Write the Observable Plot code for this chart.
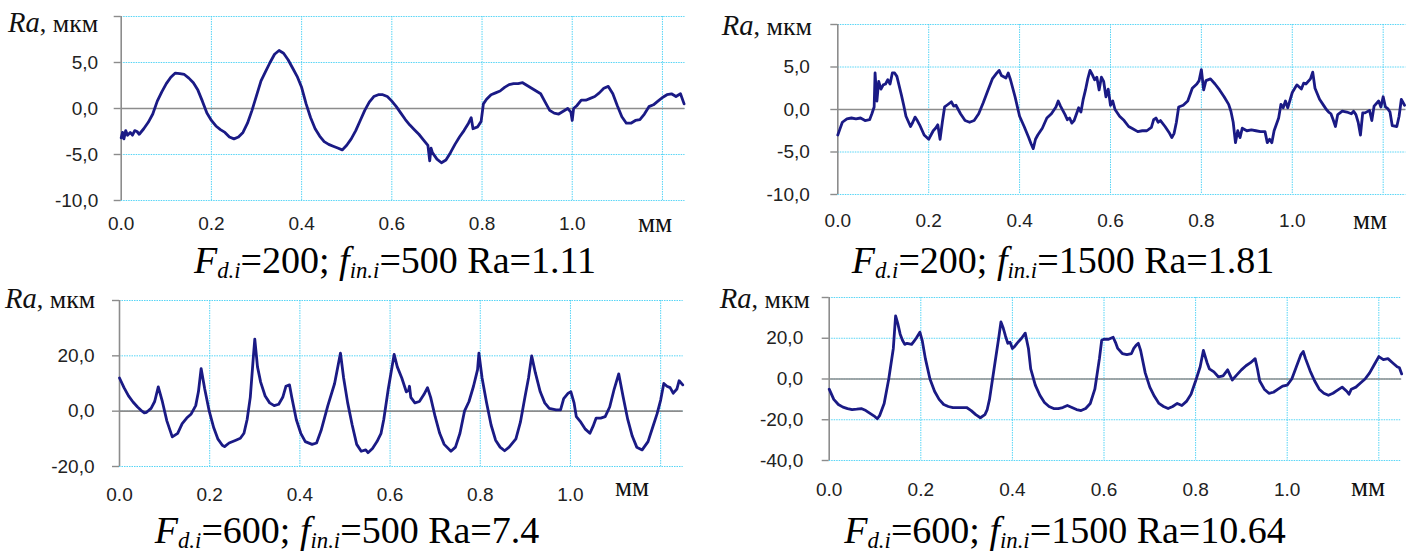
<!DOCTYPE html>
<html><head><meta charset="utf-8">
<script src="https://cdn.jsdelivr.net/npm/d3@7"></script>
<script src="https://cdn.jsdelivr.net/npm/@observablehq/plot@0.6"></script>
<style>
body{margin:0;background:#fff;}
#wrap{position:relative;width:1416px;height:555px;overflow:hidden;background:#fff;}
.panel{position:absolute;}
.lbl{position:absolute;font-family:'Liberation Serif','Tinos',serif;color:#111;white-space:nowrap;line-height:1;}
.lbl i{font-size:1.1em;}
.cap{position:absolute;width:700px;text-align:center;font-family:'Liberation Serif','Tinos',serif;font-size:38px;line-height:1;color:#000;white-space:nowrap;}
.cap sub{font-size:0.6em;vertical-align:-0.2em;line-height:0;font-style:italic;}
</style></head><body><div id="wrap"></div>
<script>
// ---------- data (x in мм, Ra in мкм) ----------
const xTicks = [0, 0.2, 0.4, 0.6, 0.8, 1.0];
const xGrid = [0.2, 0.4, 0.6, 0.8, 1.0, 1.2];
const yTicks1 = [-10, -5, 0, 5, 10];
const yTicks2 = [-10, -5, 0, 5, 10];
const yTicks3 = [-20, 0, 20, 40];
const yTicks4 = [-40, -20, 0, 20, 40];
const captions = [
  ["200", "500", "1.11"],
  ["200", "1500", "1.81"],
  ["600", "500", "7.4"],
  ["600", "1500", "10.64"]
];

const profile1 = [[0,-3.2],[0.003,-2.6],[0.006,-3.3],[0.01,-2.4],[0.014,-2.9],[0.02,-2.6],[0.025,-2.9],[0.03,-2.4],[0.035,-2.5],[0.04,-2.8],[0.05,-2.2],[0.06,-1.5],[0.07,-0.6],[0.08,0.8],[0.09,1.8],[0.1,2.7],[0.11,3.4],[0.12,3.85],[0.13,3.8],[0.14,3.7],[0.15,3.3],[0.16,2.8],[0.17,2.0],[0.18,0.8],[0.19,-0.5],[0.2,-1.3],[0.21,-1.9],[0.22,-2.3],[0.23,-2.6],[0.24,-3.1],[0.25,-3.3],[0.26,-3.1],[0.27,-2.6],[0.28,-1.6],[0.29,-0.2],[0.3,1.4],[0.31,3.0],[0.32,4.0],[0.33,5.0],[0.34,5.9],[0.35,6.3],[0.36,6.0],[0.37,5.3],[0.38,4.4],[0.39,3.5],[0.4,2.3],[0.41,0.5],[0.42,-1.0],[0.43,-2.2],[0.44,-3.0],[0.45,-3.6],[0.46,-3.9],[0.47,-4.1],[0.48,-4.3],[0.49,-4.5],[0.5,-4.0],[0.51,-3.3],[0.52,-2.4],[0.53,-1.3],[0.54,-0.2],[0.55,0.7],[0.56,1.3],[0.57,1.5],[0.58,1.5],[0.59,1.3],[0.6,0.8],[0.61,0.2],[0.62,-0.5],[0.63,-1.2],[0.64,-1.8],[0.65,-2.3],[0.66,-2.8],[0.67,-3.4],[0.68,-4.0],[0.684,-5.7],[0.687,-4.3],[0.69,-4.8],[0.7,-5.5],[0.71,-5.9],[0.72,-5.6],[0.73,-4.8],[0.74,-3.9],[0.75,-3.1],[0.76,-2.4],[0.77,-1.6],[0.776,-1.0],[0.78,-2.2],[0.79,-2.0],[0.798,-1.4],[0.803,0.5],[0.81,1.0],[0.82,1.5],[0.83,1.7],[0.84,1.9],[0.85,2.3],[0.86,2.6],[0.87,2.7],[0.88,2.7],[0.89,2.8],[0.9,2.5],[0.91,2.2],[0.92,1.9],[0.93,1.6],[0.94,0.7],[0.95,-0.2],[0.96,-0.5],[0.97,-0.6],[0.98,-0.3],[0.99,0.0],[0.997,-0.4],[1.0,-1.3],[1.003,0.0],[1.01,0.3],[1.02,0.9],[1.03,0.9],[1.04,1.1],[1.05,1.3],[1.06,1.7],[1.07,2.2],[1.08,2.4],[1.09,1.6],[1.1,0.3],[1.11,-0.9],[1.12,-1.6],[1.13,-1.6],[1.14,-1.3],[1.15,-1.2],[1.16,-0.6],[1.17,0.2],[1.18,0.4],[1.19,0.8],[1.2,1.2],[1.21,1.5],[1.22,1.6],[1.23,1.3],[1.24,1.6],[1.248,0.5]];

const profile2 = [[0,-3.0],[0.004,-2.4],[0.01,-1.5],[0.02,-1.1],[0.03,-1.0],[0.04,-1.1],[0.05,-1.0],[0.06,-1.3],[0.07,-1.2],[0.075,-0.5],[0.08,0.3],[0.082,4.3],[0.086,1.0],[0.09,3.3],[0.095,2.4],[0.1,2.9],[0.105,3.0],[0.11,3.5],[0.115,3.0],[0.12,4.3],[0.125,4.3],[0.13,3.9],[0.14,1.7],[0.145,0.5],[0.15,-0.8],[0.16,-2.0],[0.165,-1.5],[0.17,-0.9],[0.175,-1.3],[0.18,-1.8],[0.19,-3.0],[0.2,-3.5],[0.21,-2.5],[0.215,-2.2],[0.22,-1.8],[0.225,-3.5],[0.23,-1.5],[0.235,0.3],[0.24,0.5],[0.25,0.9],[0.255,0.4],[0.26,0.5],[0.27,-0.5],[0.28,-1.3],[0.29,-1.5],[0.3,-1.3],[0.31,-0.5],[0.32,0.8],[0.33,2.2],[0.34,3.6],[0.35,4.3],[0.355,4.6],[0.36,4.0],[0.37,3.7],[0.375,4.3],[0.38,3.5],[0.39,1.5],[0.4,-0.8],[0.41,-2.0],[0.42,-3.3],[0.425,-4.0],[0.43,-4.6],[0.435,-3.5],[0.44,-3.0],[0.45,-2.2],[0.46,-1.0],[0.47,-0.5],[0.48,0.3],[0.485,1.0],[0.49,0.4],[0.5,-0.6],[0.505,-1.2],[0.51,-1.0],[0.515,-1.6],[0.52,-1.3],[0.53,0.2],[0.535,-0.3],[0.54,1.2],[0.545,2.3],[0.55,3.6],[0.555,4.6],[0.56,4.1],[0.565,3.5],[0.57,3.8],[0.575,2.3],[0.58,3.8],[0.585,3.3],[0.59,1.5],[0.595,2.4],[0.6,0.5],[0.605,1.0],[0.61,0.0],[0.62,-0.8],[0.63,-1.3],[0.64,-2.0],[0.65,-2.3],[0.66,-2.6],[0.67,-2.5],[0.68,-2.5],[0.69,-2.1],[0.695,-1.2],[0.7,-1.0],[0.705,-1.5],[0.71,-1.3],[0.72,-2.0],[0.73,-2.8],[0.735,-3.3],[0.74,-2.8],[0.745,-1.5],[0.75,0.3],[0.76,0.5],[0.77,1.0],[0.78,2.5],[0.79,3.0],[0.795,3.4],[0.8,4.7],[0.805,2.3],[0.81,3.4],[0.82,3.6],[0.83,3.0],[0.84,2.3],[0.85,1.5],[0.86,0.6],[0.865,-0.2],[0.87,-1.5],[0.875,-3.9],[0.88,-2.5],[0.885,-3.3],[0.89,-2.2],[0.9,-2.5],[0.91,-2.4],[0.92,-2.5],[0.93,-2.6],[0.94,-2.6],[0.945,-3.9],[0.95,-3.5],[0.955,-3.9],[0.96,-2.5],[0.97,-1.0],[0.975,0.6],[0.98,0.2],[0.985,1.0],[0.99,0.2],[1.0,2.0],[1.01,2.9],[1.02,2.4],[1.025,3.1],[1.03,3.0],[1.04,3.6],[1.045,4.4],[1.05,2.5],[1.06,1.2],[1.07,0.4],[1.075,0.0],[1.08,-0.3],[1.085,-0.5],[1.09,-1.2],[1.095,-2.0],[1.1,-0.6],[1.11,-0.2],[1.12,-0.3],[1.13,-0.5],[1.135,-0.2],[1.14,-0.6],[1.145,-1.5],[1.15,-3.0],[1.155,-0.4],[1.16,-0.4],[1.17,-0.1],[1.175,-1.3],[1.18,0.4],[1.19,1.0],[1.195,0.3],[1.2,1.5],[1.205,0.3],[1.21,0.1],[1.215,-0.3],[1.22,-1.9],[1.23,-2.0],[1.235,-0.8],[1.24,1.2],[1.247,0.5]];

const profile3 = [[0,12],[0.01,8.5],[0.02,5.5],[0.03,3.3],[0.04,1.5],[0.05,0.0],[0.055,-0.6],[0.06,-0.4],[0.07,1.0],[0.078,3.5],[0.086,8.8],[0.095,3.5],[0.105,-3.5],[0.117,-9.3],[0.129,-8.0],[0.139,-4.5],[0.149,-2.5],[0.159,-1.0],[0.169,2.0],[0.175,7.0],[0.181,15.4],[0.189,8.0],[0.199,0.0],[0.209,-6.0],[0.218,-10.0],[0.228,-12.3],[0.233,-12.8],[0.243,-11.5],[0.258,-10.5],[0.268,-9.8],[0.276,-8.0],[0.283,-3.0],[0.29,5.0],[0.297,20.0],[0.3,26.0],[0.306,16.0],[0.313,10.5],[0.323,5.5],[0.333,3.0],[0.343,2.0],[0.353,2.5],[0.362,5.0],[0.369,9.0],[0.377,9.5],[0.382,5.0],[0.392,-3.0],[0.402,-8.0],[0.412,-11.0],[0.427,-12.0],[0.437,-11.5],[0.447,-7.0],[0.462,2.0],[0.477,10.0],[0.49,21.0],[0.497,12.0],[0.506,3.0],[0.516,-5.0],[0.526,-12.0],[0.536,-14.5],[0.546,-14.0],[0.551,-15.0],[0.561,-13.5],[0.571,-11.0],[0.58,-8.0],[0.586,-3.0],[0.596,8.0],[0.609,20.5],[0.616,16.0],[0.626,12.0],[0.636,7.0],[0.641,7.5],[0.643,9.0],[0.646,5.0],[0.655,3.0],[0.665,3.5],[0.675,6.0],[0.683,8.5],[0.69,5.0],[0.7,-2.0],[0.71,-8.0],[0.72,-12.0],[0.735,-14.5],[0.745,-13.0],[0.755,-8.0],[0.765,0.0],[0.775,3.5],[0.785,9.0],[0.794,15.0],[0.797,21.0],[0.804,12.0],[0.814,3.0],[0.824,-5.0],[0.834,-10.5],[0.844,-13.0],[0.854,-14.3],[0.864,-13.0],[0.879,-10.0],[0.889,-4.0],[0.899,5.0],[0.907,12.0],[0.914,20.0],[0.922,14.0],[0.933,7.0],[0.943,3.0],[0.953,1.0],[0.968,0.5],[0.978,0.5],[0.985,4.5],[0.995,6.5],[1.001,7.0],[1.008,3.0],[1.013,-2.0],[1.023,-4.0],[1.033,-6.5],[1.043,-8.0],[1.05,-5.5],[1.057,-2.5],[1.067,-2.5],[1.077,-2.0],[1.087,1.5],[1.097,8.0],[1.107,13.5],[1.117,5.0],[1.127,-3.0],[1.137,-9.0],[1.147,-13.0],[1.159,-14.0],[1.172,-11.0],[1.182,-6.0],[1.192,-1.0],[1.2,4.0],[1.207,10.0],[1.214,9.0],[1.221,8.5],[1.228,6.5],[1.236,8.0],[1.241,11.0],[1.249,9.5]];

const profile4 = [[0,-5],[0.01,-10],[0.02,-12.5],[0.03,-13.8],[0.04,-14.5],[0.05,-15],[0.06,-14.8],[0.07,-14.5],[0.08,-15.5],[0.09,-17],[0.1,-18.5],[0.105,-19.5],[0.11,-18],[0.12,-12],[0.13,0],[0.14,15],[0.145,31],[0.15,27],[0.155,22],[0.16,19],[0.165,17],[0.17,17.5],[0.18,17],[0.185,18.5],[0.19,20],[0.198,23],[0.203,19],[0.21,10],[0.22,0],[0.23,-6],[0.24,-10],[0.25,-12.5],[0.26,-13.5],[0.27,-14],[0.28,-14],[0.29,-14],[0.3,-14],[0.31,-15.5],[0.32,-17.5],[0.33,-19],[0.34,-17.5],[0.345,-15],[0.35,-10],[0.36,5],[0.37,20],[0.375,28],[0.38,25],[0.385,21],[0.39,17.5],[0.395,18],[0.4,15],[0.405,16],[0.41,17.5],[0.42,20],[0.428,22.5],[0.435,15],[0.44,5],[0.45,-3],[0.46,-8],[0.47,-11.5],[0.48,-13.5],[0.49,-14.5],[0.5,-14.5],[0.51,-14],[0.52,-13],[0.53,-14],[0.54,-15],[0.55,-15.5],[0.56,-14.5],[0.57,-12],[0.58,-5],[0.59,10],[0.595,19],[0.6,19.5],[0.61,19.5],[0.62,20.5],[0.625,18],[0.63,15],[0.64,12.5],[0.65,12],[0.66,12.5],[0.665,15],[0.67,16.5],[0.675,17.5],[0.68,14],[0.69,3],[0.7,-4],[0.71,-8.5],[0.72,-12],[0.73,-13.5],[0.74,-14.5],[0.75,-13.5],[0.76,-12],[0.77,-13],[0.78,-11],[0.79,-7.5],[0.8,-1],[0.81,6],[0.817,14],[0.825,8],[0.83,5],[0.84,3.5],[0.85,1],[0.86,1.5],[0.87,4.5],[0.875,2],[0.88,-0.5],[0.89,2],[0.9,4.5],[0.91,6.5],[0.92,8],[0.93,10],[0.935,5],[0.94,-1],[0.95,-5],[0.96,-7],[0.97,-6.5],[0.98,-5],[0.99,-3.5],[1.0,-3],[1.01,0],[1.02,6],[1.03,12],[1.035,13.5],[1.04,10],[1.05,4],[1.06,-1],[1.07,-5],[1.08,-7],[1.09,-8],[1.1,-7],[1.11,-5.5],[1.12,-4],[1.13,-6],[1.135,-7.5],[1.14,-5],[1.15,-4],[1.16,-2],[1.17,0],[1.18,3],[1.19,7],[1.2,11],[1.21,9.5],[1.22,10],[1.23,8],[1.24,6],[1.245,5.5],[1.25,2.5]];

// ---------- drawing ----------
const GRID = "#45d0f5";
const AXIS = "#8c8c8c";
const LINE = "#1a1a85";
const SERIF = "'Liberation Serif', 'Tinos', serif";
const wrap = document.getElementById("wrap");

function panel(data, yTicks, g) {
  const top = yTicks[yTicks.length - 1];
  const chart = Plot.plot({
    width: g.w, height: g.h,
    marginLeft: g.ml, marginRight: g.mr, marginTop: g.mt, marginBottom: g.mb,
    style: {background: "transparent", overflow: "visible", fontFamily: "'Liberation Sans', Arial, sans-serif"},
    x: {domain: [0, 1.25]},
    y: {domain: [yTicks[0], top]},
    marks: [
      Plot.gridX(xGrid, {stroke: GRID, strokeOpacity: 0.9, strokeWidth: 1, strokeDasharray: "1.5,1"}),
      Plot.gridY(yTicks, {stroke: GRID, strokeOpacity: 0.9, strokeWidth: 1, strokeDasharray: "1.5,1"}),
      Plot.ruleY([0], {stroke: AXIS, strokeWidth: 1.6}),
      Plot.ruleX([0], {stroke: AXIS, strokeWidth: 1.6}),
      Plot.axisY(yTicks, {tickSize: 7, tickPadding: g.yPad, stroke: AXIS, strokeWidth: 1.4, fill: "#222", fontSize: 19,
        tickFormat: d => d === top ? "" : d.toFixed(1).replace(".", ","), label: null}),
      Plot.axisX(xTicks, {tickSize: 0, tickPadding: g.xPad, fill: "#222", fontSize: 19,
        tickFormat: d => d.toFixed(1), label: null}),
      Plot.line(data, {x: d => d[0], y: d => d[1], stroke: LINE, strokeWidth: 2.8, strokeLinejoin: "round", strokeLinecap: "round"})
    ]
  });
  chart.classList.add("panel");
  chart.style.left = g.left + "px";
  chart.style.top = g.top + "px";
  wrap.appendChild(chart);
}

panel(profile1, yTicks1, {left: 0, top: 0, w: 708, h: 240, ml: 120.7, mr: 23.5, mt: 16, mb: 40, yPad: 16, xPad: 16});
panel(profile2, yTicks2, {left: 708, top: 0, w: 708, h: 240, ml: 129.3, mr: 10.6, mt: 24, mb: 46, yPad: 21, xPad: 19});
panel(profile3, yTicks3, {left: 0, top: 280, w: 708, h: 230, ml: 119, mr: 25.3, mt: 20, mb: 44, yPad: 18, xPad: 21});
panel(profile4, yTicks4, {left: 708, top: 280, w: 708, h: 230, ml: 120.7, mr: 14.8, mt: 17, mb: 50, yPad: 19, xPad: 22});

function addLabel(html, left, baseline, size, cls) {
  const d = document.createElement("div");
  d.className = cls;
  d.style.fontFamily = SERIF;
  d.style.fontSize = size + "px";
  d.style.left = left + "px";
  d.style.top = (baseline - 0.8375 * size) + "px";
  d.innerHTML = html;
  wrap.appendChild(d);
  return d;
}
const yLab = "<i>Ra</i>, мкм";
addLabel(yLab, 8, 31, 26, "lbl");
addLabel(yLab, 721.7, 33.3, 26, "lbl");
addLabel(yLab, 5, 306.7, 26, "lbl");
addLabel(yLab, 719.7, 306.7, 26, "lbl");
addLabel("мм", 638, 232.7, 27, "lbl");
addLabel("мм", 1353, 230, 27, "lbl");
addLabel("мм", 615, 496.7, 27, "lbl");
addLabel("мм", 1351, 496.7, 27, "lbl");

const capCenters = [[395, 273], [1063, 273], [347, 543], [1065, 543]];
captions.forEach(([F, f, ra], i) => {
  const html = `<i>F</i><sub>d.i</sub>=${F}; <i>f</i><sub>in.i</sub>=${f} Ra=${ra}`;
  addLabel(html, capCenters[i][0] - 350, capCenters[i][1], 38, "cap");
});
</script></body></html>
